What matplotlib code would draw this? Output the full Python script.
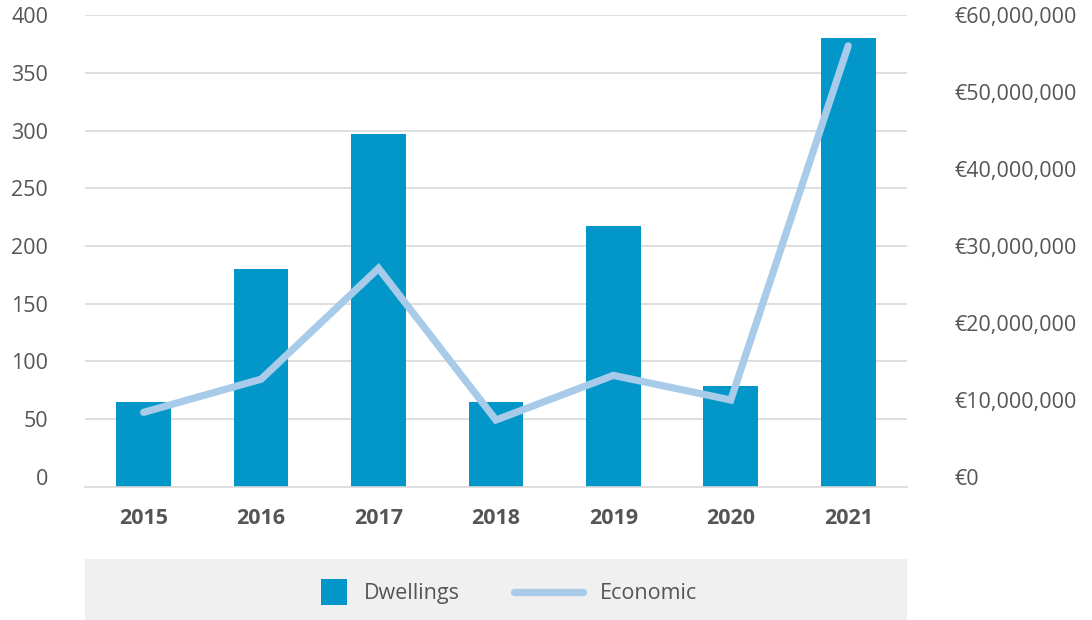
import numpy as np
import matplotlib
matplotlib.use('Agg')
import matplotlib.pyplot as plt
from matplotlib.lines import Line2D
from matplotlib.patches import Rectangle, Patch
from matplotlib.legend_handler import HandlerPatch
from matplotlib.ticker import FuncFormatter

plt.rcParams['font.family'] = ['Open Sans', 'DejaVu Sans']

#%% Data
years = ['2015', '2016', '2017', '2018', '2019', '2020', '2021']
dwellings = [65, 180, 297, 65, 217, 79, 380]
economic = [8.4e6, 12.7e6, 27.1e6, 7.4e6, 13.2e6, 10.0e6, 56.0e6]

bar_color = '#0397c9'
line_color = '#a7cbe8'
text_color = '#555555'
grid_color = '#d9d9d9'
fsize = 15.5

# axis floor sits a little below zero so the bars meet the baseline
y_floor = -8.4
eur_per_unit = 150000

#%% Figure
fig = plt.figure(figsize=(10.92, 6.2), dpi=100)
ax = fig.add_axes([0.0778, 0.215, 0.7527, 0.7608])
x = np.arange(len(years))

ax.bar(x, np.array(dwellings) - y_floor, bottom=y_floor, width=0.466,
       color=bar_color, zorder=2)
ax.set_xlim(-0.5, 6.5)
ax.set_ylim(y_floor, 400)
ax.set_yticks(np.arange(0, 401, 50))
ax.set_xticks(x, years)
ax.grid(axis='y', color=grid_color, linewidth=1.2, zorder=0)
ax.yaxis.get_gridlines()[0].set_visible(False)
for side in ['top', 'right', 'left']:
    ax.spines[side].set_visible(False)
ax.spines['bottom'].set_color(grid_color)
ax.spines['bottom'].set_linewidth(1.2)
ax.tick_params(axis='y', length=0, pad=26.5, labelsize=fsize, labelcolor=text_color)
ax.tick_params(axis='x', length=0, pad=15.5, labelsize=fsize, labelcolor=text_color)
for lbl in ax.get_xticklabels():
    lbl.set_fontweight('bold')

ax2 = ax.twinx()
ax2.plot(x, economic, color=line_color, linewidth=5.2, solid_capstyle='round',
         solid_joinstyle='miter', zorder=3)
ax2.set_ylim(y_floor * eur_per_unit, 400 * eur_per_unit)
ax2.set_yticks(np.arange(0, 60e6 + 1, 10e6))
ax2.yaxis.set_major_formatter(FuncFormatter(lambda v, p: '€{:,.0f}'.format(v)))
for side in ['top', 'right', 'left', 'bottom']:
    ax2.spines[side].set_visible(False)
ax2.tick_params(axis='y', length=0, pad=34.5, labelsize=fsize, labelcolor=text_color)

#%% Legend strip
fig.patches.append(Rectangle((0.0778, 0.0), 0.7527, 0.099, transform=fig.transFigure,
                             facecolor='#f0f0f0', edgecolor='none', zorder=0))


def square_patch(legend, orig_handle, xdescent, ydescent, width, height, fontsize):
    # square swatch pushed to the right end of the handle box
    s = 18.7
    return Rectangle((width - s - xdescent, height / 2 - s / 2 - ydescent), s, s)


handles = [Patch(facecolor=bar_color, edgecolor='none'),
           Line2D([], [], color=line_color, linewidth=5.2, solid_capstyle='round')]
fig.legend(handles, ['Dwellings', 'Economic'], loc='center', bbox_to_anchor=(0.4465, 0.042),
           ncol=2, frameon=False, fontsize=fsize, labelcolor=text_color,
           handlelength=3.2, handletextpad=0.8, columnspacing=2.5,
           handler_map={Patch: HandlerPatch(patch_func=square_patch)})

fig.savefig('out.png', dpi=100)
